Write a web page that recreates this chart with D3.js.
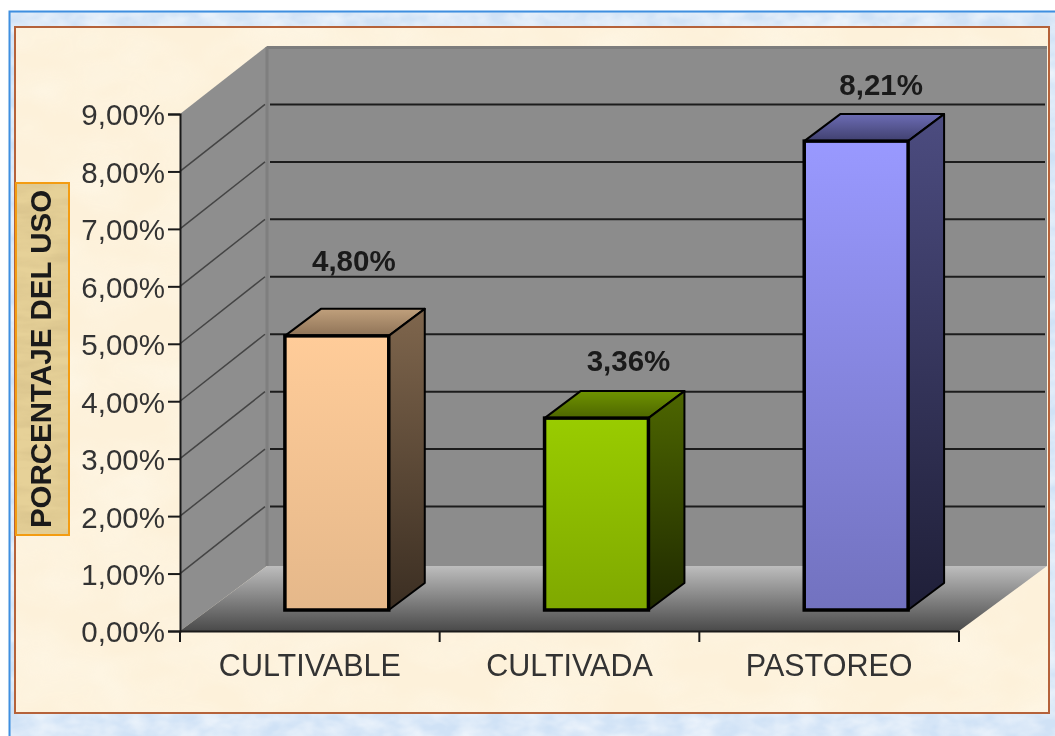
<!DOCTYPE html>
<html>
<head>
<meta charset="utf-8">
<script src="https://cdn.jsdelivr.net/npm/d3@7"></script>
<style>
  html, body { margin: 0; padding: 0; background: #fff; }
  svg { display: block; filter: blur(0.55px); }
  text { font-family: "Liberation Sans", Arial, sans-serif; }
</style>
</head>
<body>
<svg width="1055" height="736"></svg>
<script>
const categories = ['CULTIVABLE', 'CULTIVADA', 'PASTOREO'];
const values = [4.80, 3.36, 8.21];
const yTicks = [0, 1, 2, 3, 4, 5, 6, 7, 8, 9];
const axisTitle = 'PORCENTAJE DEL USO';

const frontColors = [['#ffcc99', '#e5b88a'], ['#99cc00', '#7fa800'], ['#9999ff', '#7272bf']];
const sideColors = [['#7f664d', '#3b2e22'], ['#4d6600', '#1f2900'], ['#4c4c80', '#1f1f38']];
const topColors = [['#c0a07c', '#8f7357'], ['#6f9300', '#4d6600'], ['#6c6cb4', '#40406f']];
// hand nudges for the value labels, the original chart does not place them evenly
const labelNudge = [[17, -75], [32, -57], [25, -56]];

const svg = d3.select('svg');
const defs = svg.append('defs');

const locale = d3.formatLocale({decimal: ',', thousands: '.', grouping: [3], currency: ['', '']});
const pct = locale.format('.2f');

const x = d3.scaleBand().domain(categories).range([180, 959]);
const y = d3.scaleLinear().domain([0, 9]).range([631, 114]);
// the bars stand further in, so their scale is a little shorter than the axis
const yBar = d3.scaleLinear().domain([0, 9]).range([610, 96]);

const wallDx = 87, wallDy = -65;   // depth of the floor
const gridDy = -67;                // gridlines on the back wall
const barDx = 27;                  // where the bar sits on the floor
const depthDx = 36, depthDy = -27; // depth of a bar
const barWidth = x.bandwidth() * 0.4;

function gradient(id, stops) {
    const g = defs.append('linearGradient').attr('id', id)
        .attr('x1', 0).attr('y1', 0).attr('x2', 0).attr('y2', 1);
    g.append('stop').attr('offset', 0).attr('stop-color', stops[0]);
    g.append('stop').attr('offset', 1).attr('stop-color', stops[1]);
}
categories.forEach((c, i) => {
    gradient('front' + i, frontColors[i]);
    gradient('side' + i, sideColors[i]);
    gradient('top' + i, topColors[i]);
});
gradient('floor', ['#bdbdbd', '#4a4a4a']);

// paper texture
function texture(id, freq, color) {
    const f = defs.append('filter').attr('id', id)
        .attr('x', 0).attr('y', 0).attr('width', '100%').attr('height', '100%');
    f.append('feTurbulence').attr('type', 'fractalNoise')
        .attr('baseFrequency', freq).attr('numOctaves', 3).attr('seed', 4);
    f.append('feColorMatrix').attr('type', 'matrix').attr('values', color);
}
texture('blueTex', '0.035 0.06', '0 0 0 0 1  0 0 0 0 1  0 0 0 0 1  1.5 0 0 0 -0.4');
texture('creamTex', '0.012 0.02', '0 0 0 0 1  0 0 0 0 0.98  0 0 0 0 0.9  1.4 0 0 0 -0.45');
texture('tanTex', '0.02 0.09', '0 0 0 0 0.55  0 0 0 0 0.42  0 0 0 0 0.2  1.5 0 0 0 -0.5');

// page frame
svg.append('rect').attr('x', 9.5).attr('y', 11.5).attr('width', 1060).attr('height', 740)
    .attr('fill', '#d0e2f6').attr('stroke', '#3f8fe0').attr('stroke-width', 2);
svg.append('rect').attr('x', 11).attr('y', 13).attr('width', 1044).attr('height', 723)
    .attr('filter', 'url(#blueTex)').attr('opacity', 0.7);

// chart panel
svg.append('rect').attr('x', 15).attr('y', 27).attr('width', 1034).attr('height', 686)
    .attr('fill', '#fdf1da');
svg.append('rect').attr('x', 15).attr('y', 27).attr('width', 1034).attr('height', 686)
    .attr('filter', 'url(#creamTex)').attr('opacity', 0.5);
svg.append('rect').attr('x', 15).attr('y', 27).attr('width', 1034).attr('height', 686)
    .attr('fill', 'none').attr('stroke', '#b5623a').attr('stroke-width', 2);

const left = x.range()[0], right = x.range()[1];
const bottom = y(0), top9 = y(9);
const poly = pts => pts.map(p => p.join(',')).join(' ');

// back wall, side wall, floor
svg.append('rect')
    .attr('x', left + wallDx).attr('y', top9 + wallDy - 3)
    .attr('width', right - left + 1).attr('height', bottom - top9 + 3)
    .attr('fill', '#8c8c8c');
svg.append('rect')
    .attr('x', left + wallDx).attr('y', top9 + wallDy - 3)
    .attr('width', right - left + 1).attr('height', 3).attr('fill', '#7d7d7d');
svg.append('polygon')
    .attr('points', poly([[left, top9], [left + wallDx, top9 + wallDy - 3], [left + wallDx, bottom + wallDy], [left, bottom]]))
    .attr('fill', '#8e8e8e');
svg.append('line')
    .attr('x1', left + wallDx).attr('x2', left + wallDx)
    .attr('y1', top9 + wallDy - 2).attr('y2', bottom + wallDy)
    .attr('stroke', '#7f7f7f').attr('stroke-width', 3);
svg.append('polygon')
    .attr('points', poly([[left, bottom], [left + wallDx, bottom + wallDy], [right + wallDx + 1, bottom + wallDy], [right, bottom]]))
    .attr('fill', 'url(#floor)');

// gridlines on the back and on the side wall
const grid = yTicks.filter(d => d > 0 && d < 9);
svg.append('g').selectAll('line').data(grid).enter().append('line')
    .attr('x1', left + wallDx + 3).attr('x2', right + wallDx - 1)
    .attr('y1', d => y(d) + gridDy).attr('y2', d => y(d) + gridDy)
    .attr('stroke', '#1c1c1c').attr('stroke-width', 2);
svg.append('g').selectAll('line').data(grid).enter().append('line')
    .attr('x1', left).attr('x2', left + wallDx - 2)
    .attr('y1', d => y(d)).attr('y2', d => y(d) + gridDy)
    .attr('stroke', '#444').attr('stroke-width', 1.5);

// bars
const bars = svg.append('g').selectAll('g').data(values).enter().append('g');
const bx = (d, i) => x(categories[i]) + x.bandwidth() / 2 + barDx - barWidth / 2;

bars.append('polygon')
    .attr('points', (d, i) => {
        const l = bx(d, i), t = yBar(d);
        return poly([[l, t], [l + depthDx, t + depthDy], [l + barWidth + depthDx, t + depthDy], [l + barWidth, t]]);
    })
    .attr('fill', (d, i) => `url(#top${i})`)
    .attr('stroke', '#000').attr('stroke-width', 2).attr('stroke-linejoin', 'round');
bars.append('polygon')
    .attr('points', (d, i) => {
        const r = bx(d, i) + barWidth, t = yBar(d), b = yBar(0);
        return poly([[r, t], [r + depthDx, t + depthDy], [r + depthDx, b + depthDy], [r, b]]);
    })
    .attr('fill', (d, i) => `url(#side${i})`)
    .attr('stroke', '#000').attr('stroke-width', 2).attr('stroke-linejoin', 'round');
bars.append('rect')
    .attr('x', bx).attr('y', yBar)
    .attr('width', barWidth).attr('height', d => yBar(0) - yBar(d))
    .attr('fill', (d, i) => `url(#front${i})`)
    .attr('stroke', '#000').attr('stroke-width', 3.5);

// value labels
bars.append('text')
    .attr('x', (d, i) => bx(d, i) + barWidth / 2 + labelNudge[i][0])
    .attr('y', (d, i) => yBar(d) + labelNudge[i][1])
    .attr('dy', '0.35em')
    .attr('text-anchor', 'middle')
    .attr('font-size', 29.5).attr('font-weight', 'bold').attr('fill', '#1a1a1a')
    .text(d => pct(d) + '%');

// axes
const yAxis = d3.axisLeft(y).tickValues(yTicks).tickSize(12).tickPadding(3).tickFormat(d => pct(d) + '%');
const xTicks = d3.axisBottom(x).tickSize(0).tickPadding(23);

const gy = svg.append('g').attr('transform', `translate(${left},0)`).call(yAxis);
gy.select('.domain').attr('stroke', '#1a1a1a').attr('stroke-width', 2);
gy.selectAll('.tick line').attr('stroke', '#1a1a1a').attr('stroke-width', 2);
gy.selectAll('.tick text').attr('font-size', 29.5).attr('fill', '#333').attr('y', 1.5)
    .style('font-family', '"Liberation Sans", Arial, sans-serif');

const gx = svg.append('g').attr('transform', `translate(0,${bottom})`).call(xTicks);
gx.select('.domain').attr('stroke', '#1a1a1a').attr('stroke-width', 2);
gx.selectAll('.tick text').attr('font-size', 30.5).attr('fill', '#333')
    .style('font-family', '"Liberation Sans", Arial, sans-serif');
// tick marks sit between the categories
svg.append('g').selectAll('line')
    .data(categories.map(c => x(c)).concat(right)).enter().append('line')
    .attr('x1', d => d).attr('x2', d => d)
    .attr('y1', bottom).attr('y2', bottom + 11)
    .attr('stroke', '#1a1a1a').attr('stroke-width', 2);

// axis title
svg.append('rect').attr('x', 16).attr('y', 183).attr('width', 53).attr('height', 352)
    .attr('fill', '#e6d198');
svg.append('rect').attr('x', 16).attr('y', 183).attr('width', 53).attr('height', 352)
    .attr('filter', 'url(#tanTex)').attr('opacity', 0.45);
svg.append('rect').attr('x', 16).attr('y', 183).attr('width', 53).attr('height', 352)
    .attr('fill', 'none').attr('stroke', '#f39c12').attr('stroke-width', 2);
svg.append('text')
    .attr('transform', 'translate(40.5,359)rotate(-90)')
    .attr('text-anchor', 'middle').attr('dy', '0.35em')
    .attr('font-size', 29.5).attr('font-weight', 'bold').attr('fill', '#1a1a1a')
    .text(axisTitle);
</script>
</body>
</html>
